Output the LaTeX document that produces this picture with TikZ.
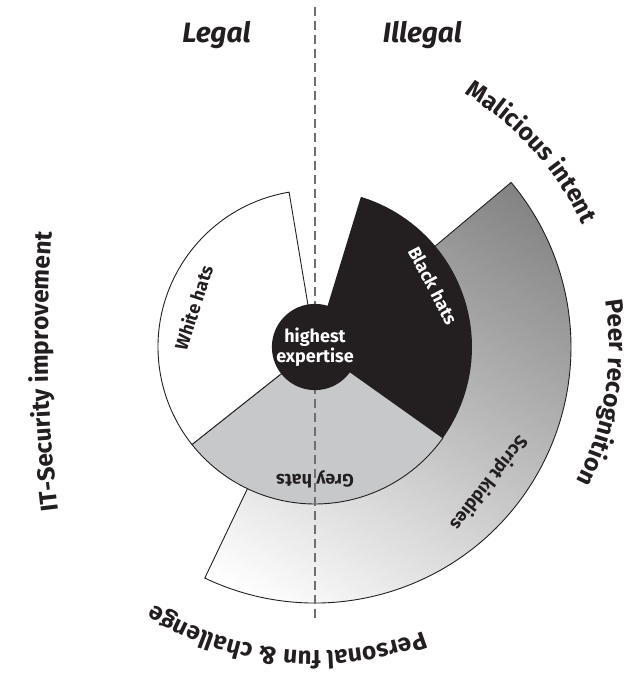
\documentclass[tikz,border=0pt]{standalone}
\usepackage{fontspec}
\setmainfont{Fira Sans}
\usetikzlibrary{decorations.text}
\definecolor{ink}{HTML}{231F20}
\definecolor{greyhat}{HTML}{C7C8CA}
\definecolor{skdark}{HTML}{808080}
\definecolor{sklight}{HTML}{FFFFFF}
\definecolor{dashgrey}{HTML}{6D6E71}
\newcommand\olabfont{\bfseries\fontsize{24.5}{24.5}\selectfont}
\newcommand\slabfont{\bfseries\fontsize{18}{20}\selectfont}
\begin{document}
\begin{tikzpicture}[x=1pt,y=1pt,
  outline/.style={draw=ink, line width=0.9pt, line join=miter},
  smalllab/.style={font=\slabfont, text=ink, inner sep=0pt},
  sidelab/.style={font=\bfseries\itshape\fontsize{28}{28}\selectfont, text=ink, inner sep=0pt},
  arclab/.style={decorate, decoration={text along path, text align=center, text={|\olabfont\color{ink}|#1}}}
]
\useasboundingbox (0,0) rectangle (629,673);
\coordinate (C) at (315,326);

% Script kiddies (gradient sector, built from thin stripes)
\begin{scope}
  \clip (C) -- ([shift={(-115.5:256)}]C) arc[start angle=-115.5, end angle=40, radius=256] -- cycle;
  \begin{scope}[shift={(C)}, rotate=-32]
    \foreach \i in {0,...,99} {
      \fill[skdark!\i!sklight] (-300,{-250+\i*5.0}) rectangle (300,{-250+(\i+1)*5.0+0.6});
    }
  \end{scope}
\end{scope}
\path[outline] (C) -- ([shift={(-115.5:256)}]C) arc[start angle=-115.5, end angle=40, radius=256] -- cycle;

% Grey hats
\path[outline, fill=greyhat] (C) -- ([shift={(218.4:157)}]C) arc[start angle=218.4, end angle=324.6, radius=157] -- cycle;
% White hats
\path[outline, fill=white] (C) -- ([shift={(99.5:157)}]C) arc[start angle=99.5, end angle=218.4, radius=157] -- cycle;
% Black hats
\fill[ink] (C) -- ([shift={(-35.4:157)}]C) arc[start angle=-35.4, end angle=73, radius=157] -- cycle;

% dashed divider
\coordinate (dtop) at (315,666);
\coordinate (dbot) at (315,53);
\draw[dashgrey, line width=1.5pt, dash pattern=on 9pt off 5pt] (dtop) -- (dbot);

% core
\node[circle, fill=ink, minimum size=80pt, inner sep=0pt, text=white, font=\slabfont, align=center] (core) at (C) {highest\\expertise};

% sector labels
\node[smalllab, rotate=72] (white) at ([shift={(162:128)}]C) {White hats};
\node[smalllab, text=white, rotate=-62.5] (black) at ([shift={(27.5:133)}]C) {Black hats};
\node[smalllab, rotate=180] (grey) at ([shift={(-90:132)}]C) {Grey hats};
\node[smalllab, rotate=-128] (kiddies) at ([shift={(-38:220)}]C) {Script kiddies};

% top labels
\node[sidelab] (legal) at (216.5,638) {Legal};
\node[sidelab] (illegal) at (422.5,638) {Illegal};

% curved outer labels
\path[arclab={Malicious intent}] ([shift={(102:294)}]C) arc[start angle=102, end angle=-18, radius=294];
\path[arclab={Peer recognition}] ([shift={(51:294)}]C) arc[start angle=51, end angle=-69, radius=294];
\path[arclab={Personal fun {\&} challenge}] ([shift={(-35.6:304)}]C) arc[start angle=-35.6, end angle=-155.6, radius=304];
\coordinate (itc) at (1448,333);
\path[arclab={IT-Security improvement}] ([shift={(189.3:1400)}]itc) arc[start angle=189.3, end angle=173.3, radius=1400];
\end{tikzpicture}
\end{document}
